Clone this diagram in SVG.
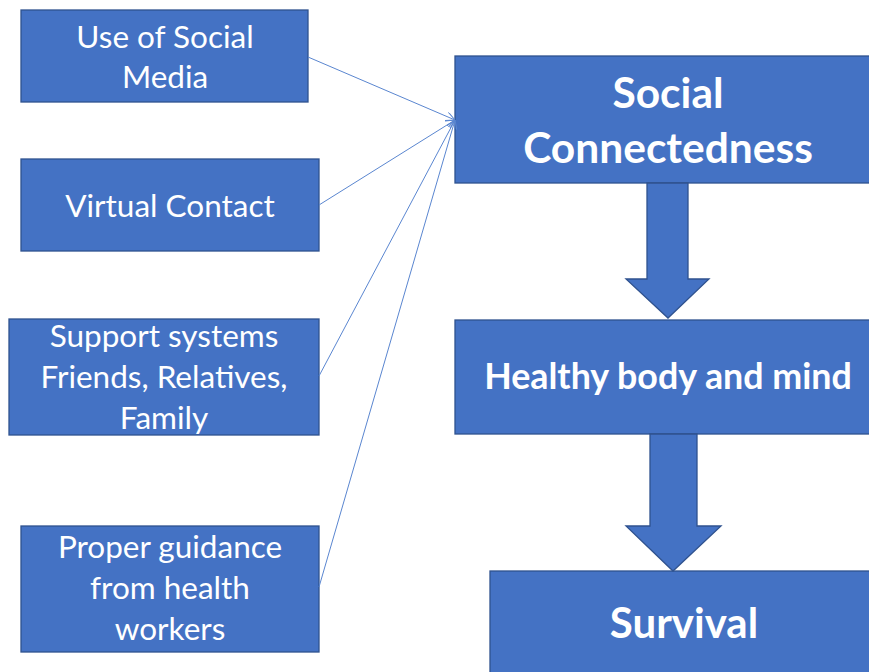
<svg xmlns="http://www.w3.org/2000/svg" width="869" height="672" viewBox="0 0 869 672">
  <style>
    .box { fill: #4472C4; stroke: #2F528F; stroke-width: 1.3; }
    .blk { fill: #4472C4; stroke: #2F528F; stroke-width: 1.3; stroke-linejoin: miter; }
    .lbl { fill: #ffffff; font-family: Lato, "Liberation Sans", sans-serif; font-size: 31.5px; text-anchor: middle; }
    .big { fill: #ffffff; font-family: Lato, "Liberation Sans", sans-serif; font-weight: bold; text-anchor: middle; }
    .link { fill: none; stroke: #5A86D0; stroke-width: 1; }
  </style>
  <defs>
    <marker id="open" viewBox="0 0 10 10" refX="10" refY="5" markerWidth="9" markerHeight="9" markerUnits="userSpaceOnUse" orient="auto">
      <path d="M0,0 L10,5 L0,10" fill="none" stroke="#5A86D0" stroke-width="1.1"/>
    </marker>
  </defs>
  <rect width="869" height="672" fill="#ffffff"/>

  <!-- inputs -->
  <g id="social-media">
    <rect class="box" x="21" y="10" width="287" height="92"/>
    <text class="lbl" x="165" y="48">Use of Social</text>
    <text class="lbl" x="165" y="88">Media</text>
  </g>
  <g id="virtual-contact">
    <rect class="box" x="21" y="159" width="298" height="92"/>
    <text class="lbl" x="170" y="217">Virtual Contact</text>
  </g>
  <g id="support-systems">
    <rect class="box" x="9" y="319" width="310" height="116"/>
    <text class="lbl" x="164" y="347">Support systems</text>
    <text class="lbl" x="164" y="388">Friends, Relatives,</text>
    <text class="lbl" x="164" y="429">Family</text>
  </g>
  <g id="health-workers">
    <rect class="box" x="21" y="526" width="298" height="126"/>
    <text class="lbl" x="170" y="558">Proper guidance</text>
    <text class="lbl" x="170" y="599">from health</text>
    <text class="lbl" x="170" y="640">workers</text>
  </g>

  <!-- main chain -->
  <g id="social-connectedness">
    <rect class="box" x="455" y="56" width="420" height="127"/>
    <text class="big" x="668" y="108" font-size="42.5">Social</text>
    <text class="big" x="668" y="163" font-size="42.5">Connectedness</text>
  </g>
  <g id="healthy-body-mind">
    <rect class="box" x="455" y="320" width="420" height="114"/>
    <text class="big" x="668" y="389" font-size="35.8">Healthy body and mind</text>
  </g>
  <g id="survival">
    <rect class="box" x="490" y="571" width="390" height="110"/>
    <text class="big" x="684" y="638" font-size="42">Survival</text>
  </g>

  <!-- connectors -->
  <g id="connectors">
    <line class="link" x1="308" y1="57" x2="455" y2="120" marker-end="url(#open)"/>
    <line class="link" x1="319" y1="205" x2="455" y2="120" marker-end="url(#open)"/>
    <line class="link" x1="319" y1="376" x2="455" y2="120" marker-end="url(#open)"/>
    <line class="link" x1="319" y1="587" x2="455" y2="120" marker-end="url(#open)"/>
    <polygon class="blk" points="647,183 688,183 688,279 709,279 668,318 626,279 647,279"/>
    <polygon class="blk" points="650,434 697,434 697,526 721,526 673,571 626,526 650,526"/>
  </g>
</svg>
